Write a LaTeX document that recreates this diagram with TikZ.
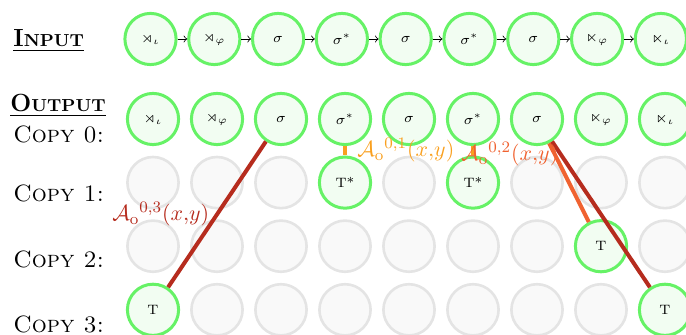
\documentclass[tikz,border=0pt]{standalone}
\usepackage{amssymb}
\usetikzlibrary{arrows,positioning}

\definecolor{stategreen}{RGB}{102,242,102}
\definecolor{statefill}{RGB}{242,253,242}
\definecolor{idlegrey}{RGB}{228,228,228}
\definecolor{idlefill}{RGB}{249,249,249}
\definecolor{shiftorange}{RGB}{249,160,32}
\definecolor{shiftred}{RGB}{240,98,48}
\definecolor{shiftdark}{RGB}{182,44,30}

% bold caps by hand, lmodern has no bold small caps
\newcommand\boldcaps[2]{{\bfseries\fontsize{12.4}{14}\selectfont #1\fontsize{8.7}{10}\selectfont #2}}

\begin{document}
\begin{tikzpicture}[on grid]
        \tikzset{state/.style={draw=stategreen, fill=statefill, circle, line width=1.5pt, minimum size=25.6pt, inner sep=0pt, font=\fontsize{6.8}{8}\selectfont},
        idle/.style={draw=idlegrey, fill=idlefill, circle, line width=1.3pt, minimum size=25.6pt, inner sep=0pt},
        rowlabel/.style={anchor=base west, inner sep=0pt, font=\fontsize{11.8}{14}\selectfont},
        maplabel/.style={anchor=base west, inner sep=0pt, font=\fontsize{11}{13}\selectfont},
        shiftone/.style={draw=shiftorange, line width=2pt},
        shifttwo/.style={draw=shiftred, line width=2pt},
        shiftthree/.style={draw=shiftdark, line width=2pt}
        }
        \useasboundingbox (0,0) rectangle (343pt,-167.5pt);
        \clip (0,0) rectangle (343pt,-167.5pt);

%% row labels
        \node [rowlabel] (inlabel) at (6.5pt,-23.5pt) {\underline{\boldcaps{I}{NPUT}}};
        \node [rowlabel] (outlabel) at (5pt,-56pt) {\underline{\boldcaps{O}{UTPUT}}};
        \node [rowlabel] (copy0) at (6.5pt,-71.5pt) {\textsc{Copy 0:}};
        \node [rowlabel] (copy1) at (6.5pt,-101pt) {\textsc{Copy 1:}};
        \node [rowlabel] (copy2) at (6.5pt,-134pt) {\textsc{Copy 2:}};
        \node [rowlabel] (copy3) at (6.5pt,-166.5pt) {\textsc{Copy 3:}};

%% input
        \node [state] (i1) at (75.25pt,-19.5pt) {$\rtimes_\iota$};
        \node [state, right=31.9pt of i1] (i2) {$\rtimes_\varphi$};
        \node [state, right=31.9pt of i2] (i3) {$\sigma$};
        \node [state, right=31.9pt of i3] (i4) {$\sigma^*$};
        \node [state, right=31.9pt of i4] (i5) {$\sigma$};
        \node [state, right=31.9pt of i5] (i6) {$\sigma^*$};
        \node [state, right=31.9pt of i6] (i7) {$\sigma$};
        \node [state, right=31.9pt of i7] (i8) {$\ltimes_\varphi$};
        \node [state, right=31.9pt of i8] (i9) {$\ltimes_\iota$};

%% output, copy 0
        \node [state] (o1) at (76.5pt,-59.5pt) {$\rtimes_\iota$};
        \node [state, right=32pt of o1] (o2) {$\rtimes_\varphi$};
        \node [state, right=32pt of o2] (o3) {$\sigma$};
        \node [state, right=32pt of o3] (o4) {$\sigma^*$};
        \node [state, right=32pt of o4] (o5) {$\sigma$};
        \node [state, right=32pt of o5] (o6) {$\sigma^*$};
        \node [state, right=32pt of o6] (o7) {$\sigma$};
        \node [state, right=32pt of o7] (o8) {$\ltimes_\varphi$};
        \node [state, right=32pt of o8] (o9) {$\ltimes_\iota$};

%% copy 1
        \node [idle, below=31.8pt of o1] (c11) {};
        \node [idle, right=32pt of c11] (c12) {};
        \node [idle, right=32pt of c12] (c13) {};
        \node [state, right=32pt of c13] (c14) {T*};
        \node [idle, right=32pt of c14] (c15) {};
        \node [state, right=32pt of c15] (c16) {T*};
        \node [idle, right=32pt of c16] (c17) {};
        \node [idle, right=32pt of c17] (c18) {};
        \node [idle, right=32pt of c18] (c19) {};

%% copy 2
        \node [idle, below=31.8pt of c11] (c21) {};
        \node [idle, right=32pt of c21] (c22) {};
        \node [idle, right=32pt of c22] (c23) {};
        \node [idle, right=32pt of c23] (c24) {};
        \node [idle, right=32pt of c24] (c25) {};
        \node [idle, right=32pt of c25] (c26) {};
        \node [idle, right=32pt of c26] (c27) {};
        \node [state, right=32pt of c27] (c28) {T};
        \node [idle, right=32pt of c28] (c29) {};

%% copy 3
        \node [state, below=31.8pt of c21] (c31) {T};
        \node [idle, right=32pt of c31] (c32) {};
        \node [idle, right=32pt of c32] (c33) {};
        \node [idle, right=32pt of c33] (c34) {};
        \node [idle, right=32pt of c34] (c35) {};
        \node [idle, right=32pt of c35] (c36) {};
        \node [idle, right=32pt of c36] (c37) {};
        \node [idle, right=32pt of c37] (c38) {};
        \node [state, right=32pt of c38] (c39) {T};

%% paths
        \path[draw,->] (i1) edge (i2)
                    (i2) edge (i3)
                    (i3) edge (i4)
                    (i4) edge (i5)
                    (i5) edge (i6)
                    (i6) edge (i7)
                    (i7) edge (i8)
                    (i8) edge (i9);

        \path[shiftone] (o4) -- (c14);
        \path[shiftone] (o6) -- (c16);
        \path[shifttwo] (o7) -- (c28);
        \path[shiftthree] (o3) -- (c31);
        \path[shiftthree] (o7) -- (c39);

%% map labels
        \node [maplabel, text=shiftorange] (map01) at (178.5pt,-78.5pt) {${\mathcal{A}_\mathrm{o}}^{0,1}(x{,}y)$};
        \node [maplabel, text=shiftred] (map02) at (230.5pt,-80.5pt) {${\mathcal{A}_\mathrm{o}}^{0,2}(x{,}y)$};
        \node [maplabel, text=shiftdark] (map03) at (56pt,-110.5pt) {${\mathcal{A}_\mathrm{o}}^{0,3}(x{,}y)$};
\end{tikzpicture}
\end{document}
